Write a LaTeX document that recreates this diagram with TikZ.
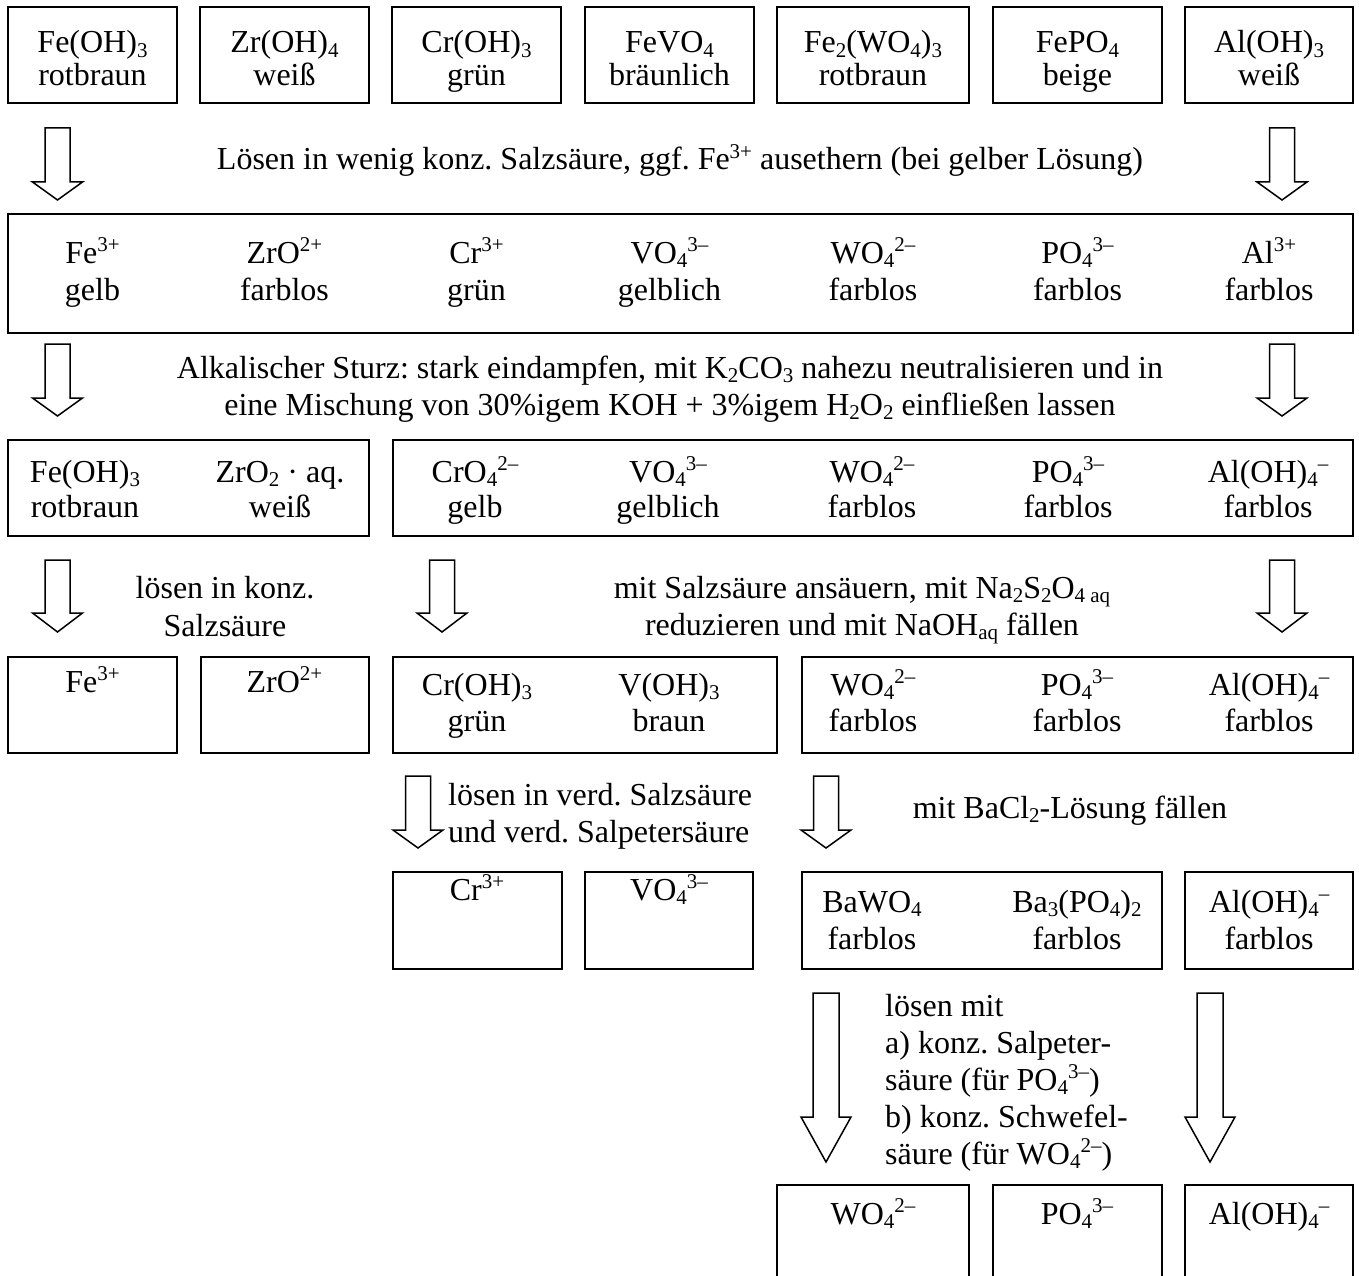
\documentclass[tikz,border=0pt]{standalone}
\usepackage{fontspec}
\setmainfont{Liberation Serif}
\frenchspacing
\newcommand\hi[1]{\raisebox{0.36em}{\fontsize{21}{21}\selectfont #1}}
\newcommand\lo[1]{\raisebox{-0.14em}{\fontsize{21}{21}\selectfont #1}}
% box: name, x1, y1, x2, y2
\newcommand\bx[5]{\node[boxst, minimum width={#4-#2}, minimum height={#5-#3}] (#1) at ({(#2+#4)/2},{(#3+#5)/2}) {};}
% hollow arrow: cx, top, headbase, tip, shaft half width
\newcommand\harrow[5]{\draw[arrst] ({#1-#5},#2) -- ({#1+#5},#2) -- ({#1+#5},#3) -- ({#1+25},#3) -- (#1,#4) -- ({#1-25},#3) -- ({#1-#5},#3) -- cycle;}
\begin{document}
\begin{tikzpicture}[x=1pt,y=-1pt,
  boxst/.style={draw, line width=1.5pt, inner sep=0pt, outer sep=0pt},
  txt/.style={font=\fontsize{32}{#1}\selectfont, align=center, inner sep=0pt, anchor=base},
  txt/.default=35,
  arrst/.style={draw, line width=1.5pt, line join=miter, fill=white}]
\useasboundingbox (0,0) rectangle (1359,1276);
\fill[white] (0,0) rectangle (1359,1276);
\clip (0,0) rectangle (1359,1276);

% ---------- row 1 ----------
\bx{b11}{8}{7}{177}{103}
\bx{b12}{200}{7}{369}{103}
\bx{b13}{392}{7}{561}{103}
\bx{b14}{585}{7}{754}{103}
\bx{b15}{777}{7}{969}{103}
\bx{b16}{993}{7}{1162}{103}
\bx{b17}{1185}{7}{1353}{103}
\node[txt=33] (t11) at (92.5,86) {Fe(OH)\lo{3}\\rotbraun};
\node[txt=33] (t12) at (284.5,86) {Zr(OH)\lo{4}\\weiß};
\node[txt=33] (t13) at (476.5,86) {Cr(OH)\lo{3}\\grün};
\node[txt=33] (t14) at (669.5,86) {FeVO\lo{4}\\bräunlich};
\node[txt=33] (t15) at (873,86) {Fe\lo{2}(WO\lo{4})\lo{3}\\rotbraun};
\node[txt=33] (t16) at (1077.5,86) {FePO\lo{4}\\beige};
\node[txt=33] (t17) at (1269,86) {Al(OH)\lo{3}\\weiß};

\harrow{57.5}{128}{182}{200}{12.5}
\harrow{1282}{128}{182}{200}{12.5}
\node[txt] (l1) at (680,170) {Lösen in wenig konz. Salzsäure, ggf. Fe\hi{3+} ausethern (bei gelber Lösung)};

% ---------- row 2 ----------
\bx{b2}{8}{214}{1353}{333}
\node[txt=37] (t21) at (92.5,300) {Fe\hi{3+}\\gelb};
\node[txt=37] (t22) at (284.5,300) {ZrO\hi{2+}\\farblos};
\node[txt=37] (t23) at (476.5,300) {Cr\hi{3+}\\grün};
\node[txt=37] (t24) at (669.5,300) {VO\lo{4}\hi{3–}\\gelblich};
\node[txt=37] (t25) at (873,300) {WO\lo{4}\hi{2–}\\farblos};
\node[txt=37] (t26) at (1077.5,300) {PO\lo{4}\hi{3–}\\farblos};
\node[txt=37] (t27) at (1269,300) {Al\hi{3+}\\farblos};

\harrow{57.5}{344}{398}{416}{12.5}
\harrow{1282}{344}{398}{416}{12.5}
\node[txt=37] (l2) at (670,415) {Alkalischer Sturz: stark eindampfen, mit K\lo{2}CO\lo{3} nahezu neutralisieren und in\\eine Mischung von 30\%igem KOH + 3\%igem H\lo{2}O\lo{2} einfließen lassen};

% ---------- row 3 ----------
\bx{b31}{8}{440}{369}{536}
\bx{b32}{393}{440}{1353}{536}
\node[txt=35] (t31) at (85,517) {Fe(OH)\lo{3}\\rotbraun};
\node[txt=35] (t32) at (280,517) {ZrO\lo{2} · aq.\\weiß};
\node[txt=35] (t33) at (475,517) {CrO\lo{4}\hi{2–}\\gelb};
\node[txt=35] (t34) at (668,517) {VO\lo{4}\hi{3–}\\gelblich};
\node[txt=35] (t35) at (872,517) {WO\lo{4}\hi{2–}\\farblos};
\node[txt=35] (t36) at (1068,517) {PO\lo{4}\hi{3–}\\farblos};
\node[txt=35] (t37) at (1268,517) {Al(OH)\lo{4}\hi{–}\\farblos};

\harrow{57.5}{560}{613}{632}{12.5}
\harrow{442}{560}{613}{632}{12.5}
\harrow{1282}{560}{613}{632}{12.5}
\node[txt=38] (l3) at (225,636) {lösen in konz.\\Salzsäure};
\node[txt=37] (l4) at (862,635) {mit Salzsäure ansäuern, mit Na\lo{2}S\lo{2}O\lo{4 aq}\\reduzieren und mit NaOH\lo{aq} fällen};

% ---------- row 4 ----------
\bx{b41}{8}{657}{177}{753}
\bx{b42}{201}{657}{369}{753}
\bx{b43}{393}{657}{777}{753}
\bx{b44}{802}{657}{1353}{753}
\node[txt] (t41) at (92.5,692) {Fe\hi{3+}};
\node[txt] (t42) at (284.5,692) {ZrO\hi{2+}};
\node[txt=36] (t43) at (477,731) {Cr(OH)\lo{3}\\grün};
\node[txt=36] (t44) at (669,731) {V(OH)\lo{3}\\braun};
\node[txt=36] (t45) at (873,731) {WO\lo{4}\hi{2–}\\farblos};
\node[txt=36] (t46) at (1077,731) {PO\lo{4}\hi{3–}\\farblos};
\node[txt=36] (t47) at (1269,731) {Al(OH)\lo{4}\hi{–}\\farblos};

\harrow{418}{776}{830}{848}{12.5}
\harrow{826}{776}{830}{848}{12.5}
\node[txt=37, anchor=base west, align=left] (l5) at (448,842) {lösen in verd. Salzsäure\\und verd. Salpetersäure};
\node[txt] (l6) at (1070,818) {mit BaCl\lo{2}-Lösung fällen};

% ---------- row 5 ----------
\bx{b51}{393}{872}{562}{969}
\bx{b52}{585}{872}{753}{969}
\bx{b53}{802}{872}{1162}{969}
\bx{b54}{1185}{872}{1353}{969}
\node[txt] (t51) at (477,900) {Cr\hi{3+}};
\node[txt] (t52) at (669,900) {VO\lo{4}\hi{3–}};
\node[txt=37] (t53) at (872,949) {BaWO\lo{4}\\farblos};
\node[txt=37] (t54) at (1077,949) {Ba\lo{3}(PO\lo{4})\lo{2}\\farblos};
\node[txt=37] (t55) at (1269,949) {Al(OH)\lo{4}\hi{–}\\farblos};

\harrow{826}{993}{1117}{1162}{13}
\harrow{1210}{993}{1117}{1162}{13}
\node[txt=37, anchor=base west, align=left] (l7) at (885,1164) {lösen mit\\a) konz. Salpeter-\\säure (für PO\lo{4}\hi{3–})\\b) konz. Schwefel-\\säure (für WO\lo{4}\hi{2–})};

% ---------- row 6 ----------
\bx{b61}{777}{1185}{969}{1320}
\bx{b62}{993}{1185}{1162}{1320}
\bx{b63}{1185}{1185}{1353}{1320}
\node[txt] (t61) at (873,1224) {WO\lo{4}\hi{2–}};
\node[txt] (t62) at (1077,1224) {PO\lo{4}\hi{3–}};
\node[txt] (t63) at (1269,1224) {Al(OH)\lo{4}\hi{–}};
\end{tikzpicture}
\end{document}
